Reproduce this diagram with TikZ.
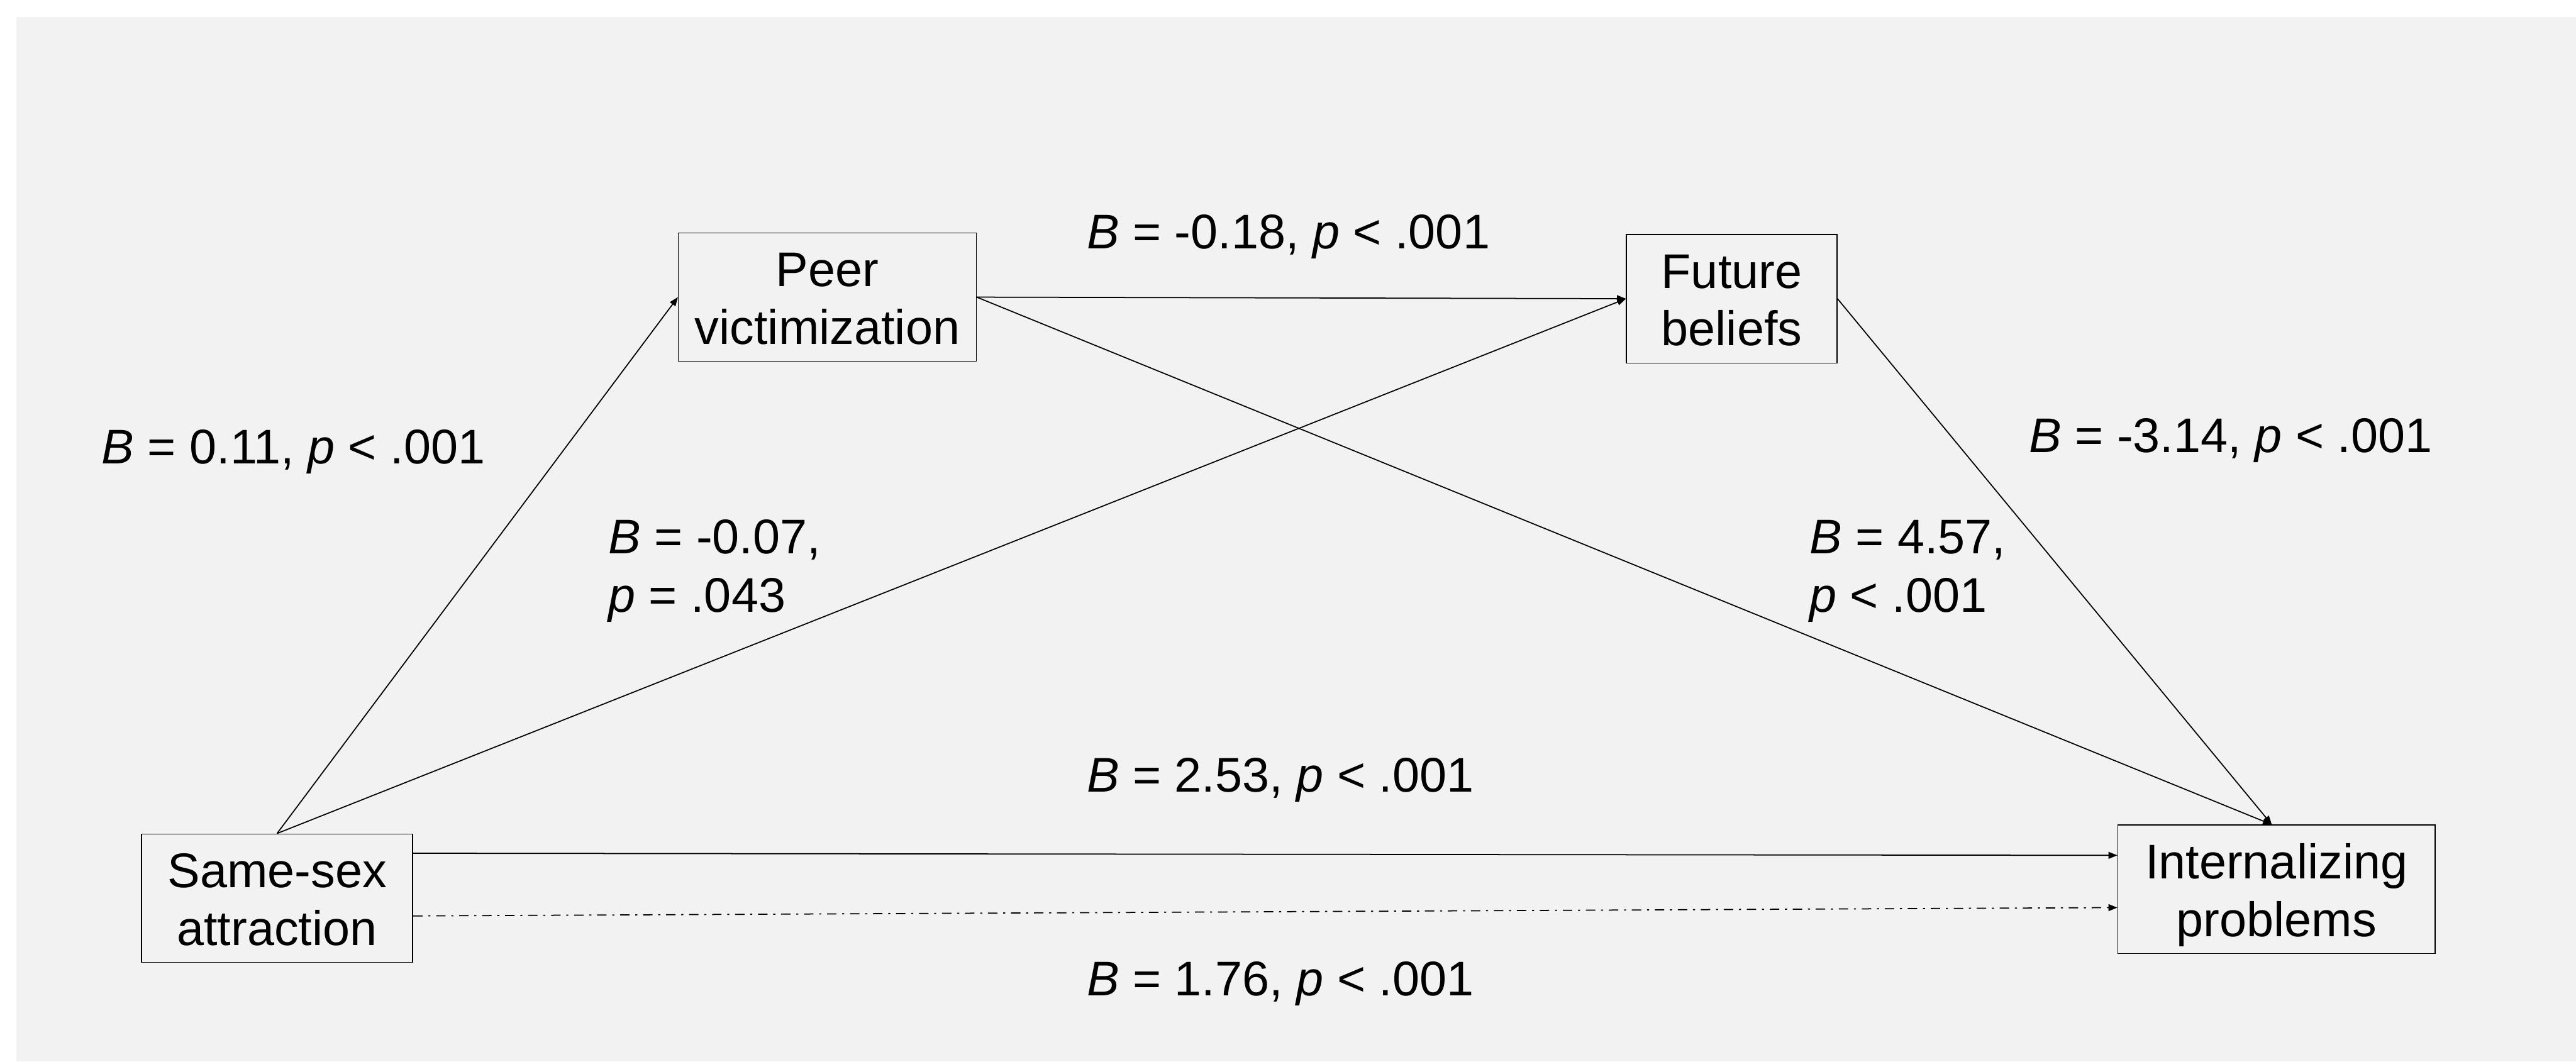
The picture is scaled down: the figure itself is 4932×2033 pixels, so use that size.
\documentclass[tikz,border=0pt]{standalone}
\usepackage{fontspec}
\setmainfont{Liberation Sans}
\usetikzlibrary{arrows.meta}
\definecolor{bggray}{HTML}{F2F2F2}
\newcommand\nstrut{\rule[-0.2cm]{0pt}{1.1cm}}
\tikzset{
  varbox/.style={draw=black, line width=0.5pt, fill=bggray, rectangle, inner sep=0pt,
    minimum height=2.46cm, align=center, font=\fontsize{26.5pt}{31.3pt}\selectfont},
  coef/.style={inner sep=0pt, anchor=base west, font=\fontsize{26.5pt}{31.3pt}\selectfont},
  path/.style={draw=black, line width=0.6pt, -{Triangle[length=0.17cm,width=0.13cm]}},
  dashdotpath/.style={path, dash pattern=on 0.18cm off 0.11cm on 0.04cm off 0.11cm}
}
\begin{document}
\begin{tikzpicture}[x=0.01cm, y=-0.01cm]
\useasboundingbox (0,0) rectangle (4932,2033);
\fill[white] (0,0) rectangle (4932,2033);
\fill[bggray] (31,32) rectangle (4932,2033);

\node[varbox, minimum width=5.19cm] (ssa) at (530.5,1720) {\nstrut Same-sex\\\nstrut attraction};
\node[varbox, minimum width=5.70cm] (peer) at (1584,569) {\nstrut Peer\\\nstrut victimization};
\node[varbox, minimum width=4.03cm] (fut) at (3315.5,572) {\nstrut Future\\\nstrut beliefs};
\node[varbox, minimum width=6.07cm] (ipr) at (4358.5,1703) {\nstrut Internalizing\\\nstrut problems};

\coordinate (iprtop) at ([xshift=-0.09cm]ipr.north);

\draw[path] (ssa.north) -- (peer.west);
\draw[path] (ssa.north) -- (fut.west);
\draw[path] (peer.east) -- (fut.west);
\draw[path] (peer.east) -- (iprtop);
\draw[path] (fut.east) -- (iprtop);
\draw[path] ([yshift=0.86cm]ssa.east) -- ([yshift=0.65cm]ipr.west);
\draw[dashdotpath] ([yshift=-0.34cm]ssa.east) -- ([yshift=-0.35cm]ipr.west);

\node[coef] (l1) at (2080,476) {\textit{B} = -0.18, \textit{p} < .001};
\node[coef] (l2) at (194,888) {\textit{B} = 0.11, \textit{p} < .001};
\node[coef] (l3a) at (1164,1060) {\textit{B} = -0.07,};
\node[coef] (l3b) at (1164,1172) {\textit{p} = .043};
\node[coef] (l4a) at (3464,1060) {\textit{B} = 4.57,};
\node[coef] (l4b) at (3464,1172) {\textit{p} < .001};
\node[coef] (l5) at (2080,1517) {\textit{B} = 2.53, \textit{p} < .001};
\node[coef] (l6) at (3884,866) {\textit{B} = -3.14, \textit{p} < .001};
\node[coef] (l7) at (2080,1907) {\textit{B} = 1.76, \textit{p} < .001};
\end{tikzpicture}
\end{document}
